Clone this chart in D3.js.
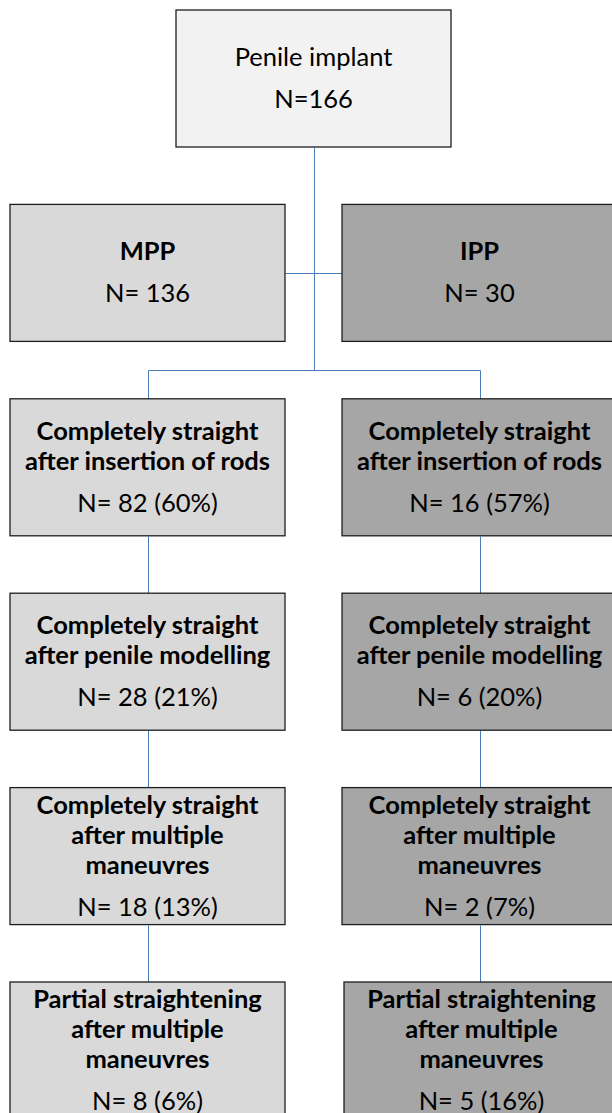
<!DOCTYPE html>
<html>
<head>
<meta charset="utf-8">
<script src="https://cdn.jsdelivr.net/npm/d3@7"></script>
<style>
  body { margin: 0; background: #fff; }
  svg { display: block; font-family: Lato, "Open Sans", sans-serif; }
</style>
</head>
<body>
<div id="flow"></div>
<script>
// data
var rootLabel = ["Penile implant"];
var rootN = 166;
var groups = ["MPP", "IPP"];
var groupN = [136, 30];
var stages = [
  ["Completely straight", "after insertion of rods"],
  ["Completely straight", "after penile modelling"],
  ["Completely straight", "after multiple", "maneuvres"],
  ["Partial straightening", "after multiple", "maneuvres"]
];
var mppCounts = [82, 28, 18, 8];
var mppPct = [60, 21, 13, 6];
var ippCounts = [16, 6, 2, 5];
var ippPct = [57, 20, 7, 16];

var width = 612, height = 1113;
var boxW = 275, boxH = 137;
var fontSize = 25.5;

// column centres and level tops
var x = d3.scalePoint().domain(["MPP", "root", "IPP"]).range([147.5, 479.5]);
var y = d3.scaleLinear().domain([0, 5]).range([10, 982]);
var fill = d3.scaleOrdinal().domain(["root", "MPP", "IPP"]).range(["#f2f2f2", "#d9d9d9", "#a6a6a6"]);

// build the node list
var nodes = [];
nodes.push({col: "root", level: 0, lines: rootLabel, bold: false, n: "N=" + rootN});
groups.forEach(function(g, i) {
  nodes.push({col: g, level: 1, lines: [g], bold: true, n: "N= " + groupN[i]});
});
stages.forEach(function(s, i) {
  nodes.push({col: "MPP", level: i + 2, lines: s, bold: true, n: "N= " + mppCounts[i] + " (" + mppPct[i] + "%)"});
  nodes.push({col: "IPP", level: i + 2, lines: s, bold: true, n: "N= " + ippCounts[i] + " (" + ippPct[i] + "%)"});
});

var svg = d3.select("#flow")
  .append("svg")
  .attr("width", width)
  .attr("height", height);

// connectors
var links = [];
var midY = y(1) + boxH / 2;
var forkY = y(2) - 29;
links.push([[x("root"), y(0) + boxH], [x("root"), forkY]]);
links.push([[x("MPP") + boxW / 2, midY], [x("IPP") - boxW / 2, midY]]);
links.push([[x("MPP"), forkY], [x("IPP"), forkY]]);
groups.forEach(function(g) {
  links.push([[x(g), forkY], [x(g), y(2)]]);
  for (var l = 2; l < 5; l++) {
    links.push([[x(g), y(l) + boxH], [x(g), y(l + 1)]]);
  }
});

svg.append("g")
  .selectAll("path")
  .data(links)
  .join("path")
  .attr("d", d3.line().x(function(d) { return Math.round(d[0]) + 0.5; }).y(function(d) { return Math.round(d[1]) + 0.5; }))
  .attr("fill", "none")
  .attr("stroke", "#4a7ebb")
  .attr("stroke-width", 1);

// boxes
var node = svg.append("g")
  .selectAll("g")
  .data(nodes)
  .join("g")
  .attr("transform", function(d) {
    // last IPP box sits a touch to the right in the original
    var dx = (d.col === "IPP" && d.level === 5) ? 2 : 0;
    return "translate(" + (x(d.col) - boxW / 2 + dx) + "," + y(d.level) + ")";
  });

node.append("rect")
  .attr("width", boxW)
  .attr("height", boxH)
  .attr("fill", function(d) { return fill(d.col); })
  .attr("stroke", "#1e1e1e")
  .attr("stroke-width", 1.3);

// text block centred in the box
node.each(function(d) {
  var g = d3.select(this);
  var first = 71 - 15 * d.lines.length;
  d.lines.forEach(function(t, i) {
    g.append("text")
      .attr("x", boxW / 2)
      .attr("y", first + 30 * i)
      .attr("text-anchor", "middle")
      .attr("font-size", fontSize)
      .attr("font-weight", d.bold ? 700 : 400)
      .attr("fill", "#000")
      .text(t);
  });
  g.append("text")
    .attr("x", boxW / 2)
    .attr("y", first + 30 * (d.lines.length - 1) + 42)
    .attr("text-anchor", "middle")
    .attr("font-size", fontSize)
    .attr("fill", "#000")
    .text(d.n);
});
</script>
</body>
</html>
